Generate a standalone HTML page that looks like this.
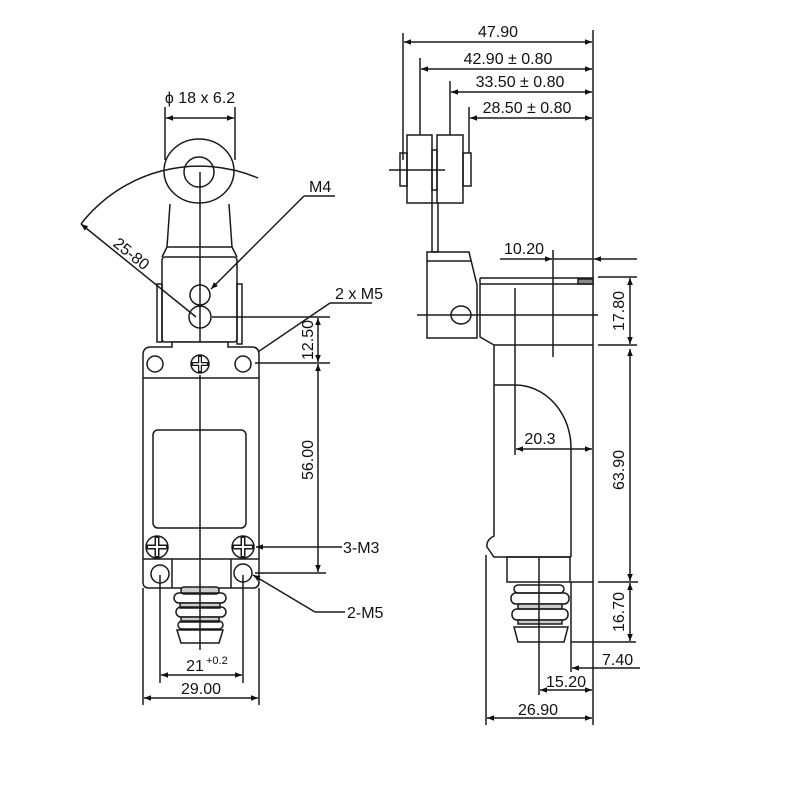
<!DOCTYPE html>
<html><head><meta charset="utf-8"><style>
html,body{margin:0;padding:0;background:#fff}
svg{display:block}
text{font-family:"Liberation Sans",Arial,sans-serif;font-size:16px;fill:#111}
</style></head><body>
<svg width="800" height="800" viewBox="0 0 800 800" xmlns="http://www.w3.org/2000/svg">
<defs>
<marker id="a" viewBox="0 0 10 10" refX="10" refY="5" markerWidth="9" markerHeight="7" orient="auto-start-reverse" markerUnits="userSpaceOnUse"><path d="M0,1 L10,5 L0,9 z" fill="#111"/></marker>
</defs>
<g stroke="#1a1a1a" stroke-width="1.5" fill="none">
<ellipse cx="199" cy="171" rx="35" ry="32" fill="#fff"/>
<circle cx="199" cy="172" r="15"/>
<line x1="165" y1="107" x2="165" y2="160"/>
<line x1="235" y1="107" x2="235" y2="160"/>
<line x1="166" y1="118" x2="234" y2="118" marker-start="url(#a)" marker-end="url(#a)"/>
<path d="M81,224 A150,150 0 0 1 258,178"/>
<line x1="81" y1="224" x2="196" y2="317" marker-start="url(#a)"/>
<line x1="170" y1="204" x2="167" y2="247"/>
<line x1="229" y1="204" x2="232" y2="247"/>
<rect x="162" y="257" width="75" height="85" rx="3"/>
<line x1="167" y1="247" x2="232" y2="247"/>
<line x1="167" y1="247" x2="162" y2="257"/>
<line x1="232" y1="247" x2="237" y2="257"/>
<rect x="157" y="284" width="5" height="58"/>
<rect x="237" y="284" width="5" height="60"/>
<circle cx="200" cy="295" r="10"/>
<circle cx="200" cy="317" r="11"/>
<line x1="200" y1="172" x2="200" y2="375"/>
<line x1="304" y1="196" x2="335" y2="196"/>
<line x1="304" y1="196" x2="211" y2="289" marker-end="url(#a)"/>
<line x1="330" y1="303" x2="372" y2="303"/>
<line x1="330" y1="303" x2="252" y2="356" marker-end="url(#a)"/>
<line x1="212" y1="317" x2="330" y2="317"/>
<path d="M143,355 Q143,347 151,347 L172,347 L172,342 L228,342 L228,347 L252,347 Q259,347 259,355 L259,582 Q259,588 253,588 L149,588 Q143,588 143,582 Z" fill="#fff"/>
<line x1="143" y1="378" x2="259" y2="378"/>
<circle cx="155" cy="364" r="8"/>
<circle cx="200" cy="364" r="9"/>
<line x1="191" y1="364" x2="209" y2="364" stroke-width="4"/>
<line x1="200" y1="355" x2="200" y2="373" stroke-width="4"/>
<line x1="193" y1="364" x2="207" y2="364" stroke="#fff" stroke-width="1.5"/>
<line x1="200" y1="357" x2="200" y2="371" stroke="#fff" stroke-width="1.5"/>
<circle cx="243" cy="364" r="8"/>
<rect x="153" y="430" width="93" height="98" rx="5"/>
<circle cx="157" cy="547" r="11"/>
<line x1="146" y1="547" x2="168" y2="547" stroke-width="5"/>
<line x1="157" y1="536" x2="157" y2="558" stroke-width="5"/>
<line x1="148" y1="547" x2="166" y2="547" stroke="#fff" stroke-width="2"/>
<line x1="157" y1="538" x2="157" y2="556" stroke="#fff" stroke-width="2"/>
<circle cx="243" cy="547" r="11"/>
<line x1="232" y1="547" x2="254" y2="547" stroke-width="5"/>
<line x1="243" y1="536" x2="243" y2="558" stroke-width="5"/>
<line x1="234" y1="547" x2="252" y2="547" stroke="#fff" stroke-width="2"/>
<line x1="243" y1="538" x2="243" y2="556" stroke="#fff" stroke-width="2"/>
<line x1="143" y1="559" x2="259" y2="559"/>
<line x1="172" y1="559" x2="172" y2="588"/>
<line x1="231" y1="559" x2="231" y2="588"/>
<circle cx="160" cy="574" r="9"/>
<circle cx="243" cy="573" r="9"/>
<rect x="181" y="587" width="38" height="7" rx="3" fill="#ccc"/>
<rect x="174" y="593" width="52" height="10" rx="5"/>
<rect x="180" y="603" width="40" height="5" fill="#ccc"/>
<rect x="176" y="607" width="50" height="10" rx="5"/>
<rect x="181" y="617" width="38" height="5" fill="#ccc"/>
<rect x="178" y="621" width="45" height="8" rx="4"/>
<path d="M177,630 L223,630 L219,643 L181,643 Z"/>
<line x1="200" y1="375" x2="200" y2="650"/>
<line x1="255" y1="363" x2="330" y2="363"/>
<line x1="255" y1="573" x2="326" y2="573"/>
<line x1="318" y1="318" x2="318" y2="362" marker-start="url(#a)" marker-end="url(#a)"/>
<line x1="318" y1="364" x2="318" y2="572" marker-start="url(#a)" marker-end="url(#a)"/>
<line x1="342" y1="547" x2="256" y2="547" marker-end="url(#a)"/>
<line x1="345" y1="612" x2="315" y2="612"/>
<line x1="315" y1="612" x2="253" y2="575" marker-end="url(#a)"/>
<line x1="160" y1="575" x2="160" y2="683"/>
<line x1="243" y1="575" x2="243" y2="683"/>
<line x1="161" y1="675" x2="242" y2="675" marker-start="url(#a)" marker-end="url(#a)"/>
<line x1="143" y1="588" x2="143" y2="705"/>
<line x1="259" y1="588" x2="259" y2="705"/>
<line x1="144" y1="698" x2="258" y2="698" marker-start="url(#a)" marker-end="url(#a)"/>

<line x1="593" y1="30" x2="593" y2="725"/>
<line x1="403" y1="33" x2="403" y2="160"/>
<line x1="404" y1="42" x2="592" y2="42" marker-start="url(#a)" marker-end="url(#a)"/>
<line x1="420" y1="58" x2="420" y2="135"/>
<line x1="421" y1="69" x2="592" y2="69" marker-start="url(#a)" marker-end="url(#a)"/>
<line x1="450" y1="81" x2="450" y2="135"/>
<line x1="451" y1="92" x2="592" y2="92" marker-start="url(#a)" marker-end="url(#a)"/>
<line x1="469" y1="107" x2="469" y2="153"/>
<line x1="470" y1="118" x2="592" y2="118" marker-start="url(#a)" marker-end="url(#a)"/>
<rect x="400" y="153" width="7" height="33"/>
<rect x="407" y="135" width="25" height="68"/>
<rect x="432" y="150" width="5" height="40"/>
<rect x="437" y="135" width="26" height="68"/>
<rect x="463" y="153" width="8" height="33"/>
<line x1="389" y1="170" x2="445" y2="170"/>
<rect x="432" y="203" width="6" height="49"/>
<path d="M427,252 L469,252 L477,285 L477,338 L427,338 Z"/>
<line x1="427" y1="261" x2="471" y2="261"/>
<ellipse cx="461" cy="315" rx="10" ry="9"/>
<line x1="417" y1="315" x2="598" y2="315"/>
<path d="M480,278 L593,278 M480,278 L480,337 L494,345 L494,536 Q486,540 487,547 L494,557 L571,557"/>
<line x1="480" y1="284" x2="593" y2="284"/>
<rect x="578" y="279" width="15" height="5" fill="#888"/>
<line x1="494" y1="345" x2="593" y2="345"/>
<line x1="515" y1="288" x2="515" y2="455"/>
<line x1="494" y1="385" x2="515" y2="385"/>
<path d="M515,385 A56,63 0 0 1 571,448"/>
<line x1="571" y1="448" x2="571" y2="557"/>
<rect x="507" y="557" width="63" height="25"/>
<line x1="571" y1="582" x2="593" y2="582"/>
<line x1="486" y1="555" x2="486" y2="725"/>
<rect x="514" y="585" width="50" height="8" rx="4"/>
<rect x="511" y="593" width="58" height="11" rx="5"/>
<rect x="518" y="604" width="44" height="5" fill="#ccc"/>
<rect x="512" y="609" width="56" height="11" rx="5"/>
<rect x="518" y="620" width="44" height="4" fill="#ccc"/>
<path d="M514,627 L568,627 L564,642 L518,642 Z"/>
<line x1="539" y1="558" x2="539" y2="695"/>
<line x1="553" y1="250" x2="553" y2="357"/>
<line x1="500" y1="259" x2="552" y2="259" marker-end="url(#a)"/>
<line x1="553" y1="259" x2="593" y2="259"/>
<line x1="637" y1="259" x2="594" y2="259" marker-end="url(#a)"/>
<line x1="598" y1="277" x2="637" y2="277"/>
<line x1="598" y1="345" x2="637" y2="345"/>
<line x1="630" y1="278" x2="630" y2="344" marker-start="url(#a)" marker-end="url(#a)"/>
<line x1="630" y1="349" x2="630" y2="581" marker-start="url(#a)" marker-end="url(#a)"/>
<line x1="598" y1="582" x2="638" y2="582"/>
<line x1="630" y1="583" x2="630" y2="641" marker-start="url(#a)" marker-end="url(#a)"/>
<line x1="571" y1="642" x2="636" y2="642"/>
<line x1="571" y1="582" x2="571" y2="672"/>
<line x1="640" y1="668" x2="572" y2="668" marker-end="url(#a)"/>
<line x1="540" y1="690" x2="592" y2="690" marker-start="url(#a)" marker-end="url(#a)"/>
<line x1="487" y1="718" x2="592" y2="718" marker-start="url(#a)" marker-end="url(#a)"/>
<line x1="516" y1="449" x2="592" y2="449" marker-start="url(#a)" marker-end="url(#a)"/>
</g>
<text x="200" y="103" text-anchor="middle">ϕ 18 x 6.2</text>
<text x="309" y="192">M4</text>
<text x="335" y="299">2 x M5</text>
<text transform="translate(128,258) rotate(39)" text-anchor="middle">25-80</text>
<text transform="translate(313,340) rotate(-90)" text-anchor="middle">12.50</text>
<text transform="translate(313,460) rotate(-90)" text-anchor="middle">56.00</text>
<text x="343" y="553">3-M3</text>
<text x="347" y="618">2-M5</text>
<text x="195" y="671" text-anchor="middle">21</text>
<text x="206" y="664" style="font-size:11px">+0.2</text>
<text x="201" y="694" text-anchor="middle">29.00</text>
<text x="498" y="37" text-anchor="middle">47.90</text>
<text x="508" y="64" text-anchor="middle">42.90 ± 0.80</text>
<text x="520" y="87" text-anchor="middle">33.50 ± 0.80</text>
<text x="527" y="113" text-anchor="middle">28.50 ± 0.80</text>
<text x="524" y="254" text-anchor="middle">10.20</text>
<text transform="translate(624,311) rotate(-90)" text-anchor="middle">17.80</text>
<text transform="translate(624,470) rotate(-90)" text-anchor="middle">63.90</text>
<text transform="translate(624,612) rotate(-90)" text-anchor="middle">16.70</text>
<text x="602" y="665">7.40</text>
<text x="566" y="687" text-anchor="middle">15.20</text>
<text x="538" y="715" text-anchor="middle">26.90</text>
<text x="540" y="444" text-anchor="middle">20.3</text>
</svg>
</body></html>
